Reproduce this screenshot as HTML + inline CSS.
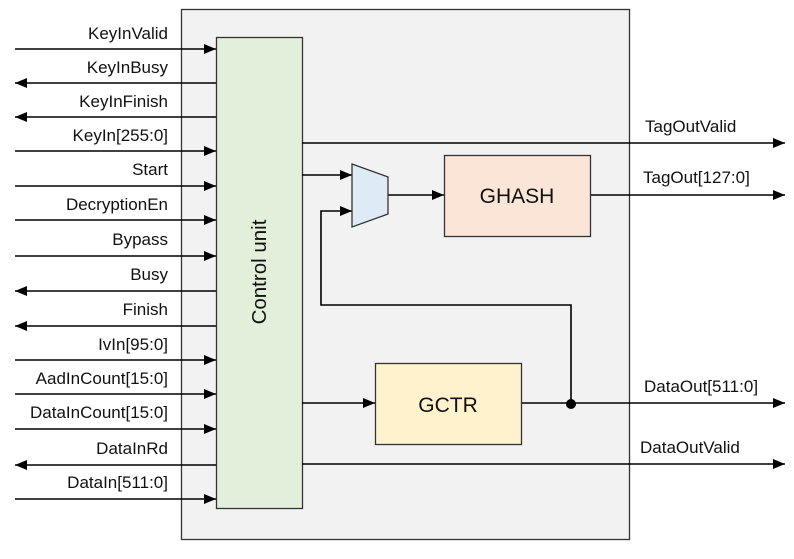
<!DOCTYPE html>
<html><head><style>
html,body{margin:0;padding:0;background:#fff;}
svg text{font-family:"Liberation Sans",Arial,sans-serif;font-size:17px;fill:#111;}
</style></head><body>
<svg width="794" height="554" viewBox="0 0 794 554" xmlns="http://www.w3.org/2000/svg">
<defs>
<marker id="a" markerWidth="12" markerHeight="10" refX="12" refY="5" orient="auto" markerUnits="userSpaceOnUse">
<path d="M0,0 L12,5 L0,10 z" fill="#000"/></marker>
</defs>
<rect x="181.5" y="9.5" width="448" height="530" fill="#f2f2f2" stroke="#333" stroke-width="1.3"/>
<rect x="216.5" y="37.5" width="86" height="471" fill="#e2efda" stroke="#333" stroke-width="1.3"/>
<text transform="translate(266,272) rotate(-90)" text-anchor="middle" style="font-size:20.5px">Control unit</text>
<g stroke="#000" stroke-width="1.6" fill="none">
<line x1="15" y1="49" x2="216" y2="49" marker-end="url(#a)"/>
<line x1="216" y1="83" x2="15" y2="83" marker-end="url(#a)"/>
<line x1="216" y1="117" x2="15" y2="117" marker-end="url(#a)"/>
<line x1="15" y1="151" x2="216" y2="151" marker-end="url(#a)"/>
<line x1="15" y1="186" x2="216" y2="186" marker-end="url(#a)"/>
<line x1="15" y1="220" x2="216" y2="220" marker-end="url(#a)"/>
<line x1="15" y1="256" x2="216" y2="256" marker-end="url(#a)"/>
<line x1="216" y1="291" x2="15" y2="291" marker-end="url(#a)"/>
<line x1="216" y1="326" x2="15" y2="326" marker-end="url(#a)"/>
<line x1="15" y1="360" x2="216" y2="360" marker-end="url(#a)"/>
<line x1="15" y1="394" x2="216" y2="394" marker-end="url(#a)"/>
<line x1="15" y1="429" x2="216" y2="429" marker-end="url(#a)"/>
<line x1="216" y1="465" x2="15" y2="465" marker-end="url(#a)"/>
<line x1="15" y1="499" x2="216" y2="499" marker-end="url(#a)"/>
<line x1="302" y1="143" x2="785" y2="143" marker-end="url(#a)"/>
<line x1="590" y1="195" x2="785" y2="195" marker-end="url(#a)"/>
<line x1="302" y1="175" x2="352" y2="175" marker-end="url(#a)"/>
<polyline points="571,403 571,305 321,305 321,211 352,211" marker-end="url(#a)"/>
<line x1="388" y1="195" x2="444" y2="195" marker-end="url(#a)"/>
<line x1="302" y1="403" x2="375" y2="403" marker-end="url(#a)"/>
<line x1="521" y1="403" x2="785" y2="403" marker-end="url(#a)"/>
<line x1="302" y1="464" x2="785" y2="464" marker-end="url(#a)"/>
</g>
<polygon points="352,164 388,177 388,214 352,227" fill="#deebf7" stroke="#333" stroke-width="1.3"/>
<rect x="444.5" y="155.5" width="146" height="81" fill="#fbe5d6" stroke="#333" stroke-width="1.3"/>
<text x="517" y="203" text-anchor="middle" style="font-size:21px">GHASH</text>
<rect x="375.5" y="363.5" width="146" height="81" fill="#fff2cc" stroke="#333" stroke-width="1.3"/>
<text x="448" y="412" text-anchor="middle" style="font-size:21px">GCTR</text>
<circle cx="571" cy="404" r="5" fill="#000"/>
<g text-anchor="end">
<text x="168" y="39">KeyInValid</text>
<text x="168" y="73">KeyInBusy</text>
<text x="168" y="107">KeyInFinish</text>
<text x="168" y="141">KeyIn[255:0]</text>
<text x="168" y="175">Start</text>
<text x="168" y="210">DecryptionEn</text>
<text x="168" y="245">Bypass</text>
<text x="168" y="280">Busy</text>
<text x="168" y="315">Finish</text>
<text x="168" y="350">IvIn[95:0]</text>
<text x="168" y="384">AadInCount[15:0]</text>
<text x="168" y="418">DataInCount[15:0]</text>
<text x="168" y="454">DataInRd</text>
<text x="168" y="488">DataIn[511:0]</text>
</g>
<text x="645" y="132">TagOutValid</text>
<text x="643" y="183">TagOut[127:0]</text>
<text x="644" y="392">DataOut[511:0]</text>
<text x="640" y="453">DataOutValid</text>
</svg>
</body></html>
